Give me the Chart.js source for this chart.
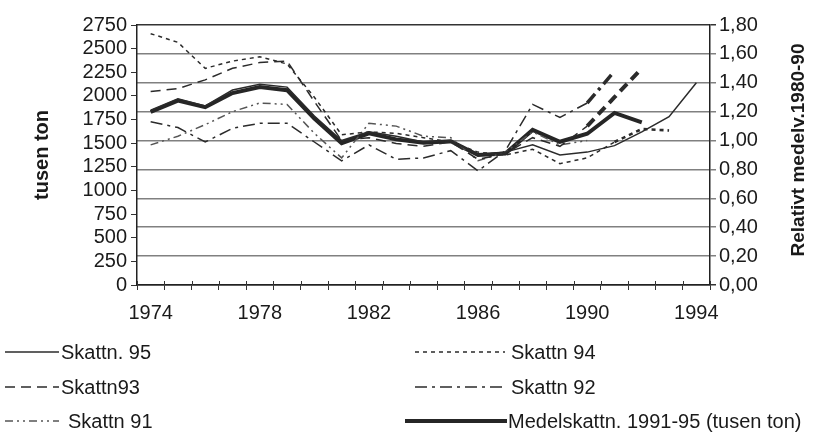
<!DOCTYPE html>
<html>
<head>
<meta charset="utf-8">
<script src="https://cdn.jsdelivr.net/npm/chart.js@4"></script>
<style>
  html, body { margin: 0; padding: 0; background: #ffffff; }
  #wrap { width: 827px; height: 444px; }
</style>
</head>
<body>
<div id="wrap"><canvas id="c" width="827" height="444"></canvas></div>
<script>
// Years on the category axis
const years = [1974,1975,1976,1977,1978,1979,1980,1981,1982,1983,1984,
               1985,1986,1987,1988,1989,1990,1991,1992,1993,1994];
const labelledYears = [1974,1978,1982,1986,1990,1994];

// Mean estimate 1991-95, thousand tonnes (left axis), 1974-1992
const medelskattn = [1830,1950,1880,2030,2095,2060,1760,1500,1605,1540,1505,1520,1375,1390,1640,1515,1600,1820,1720];

// Each assessment relative to its own 1980-90 mean (right axis)
const skattn95 = [1.21,1.29,1.24,1.35,1.39,1.37,1.17,1.00,1.06,1.03,0.99,1.00,0.90,0.92,0.97,0.90,0.92,0.965,1.06,1.165,1.40];
const skattn94 = [1.74,1.68,1.50,1.55,1.58,1.53,1.30,1.04,1.06,1.05,1.02,0.99,0.92,0.90,0.94,0.84,0.88,0.99,1.08,1.07];
const skattn93 = [1.34,1.36,1.42,1.50,1.54,1.55,1.27,1.00,1.02,0.98,0.96,0.99,0.87,0.91,1.02,0.96,1.10,1.30,1.50];
const skattn92 = [1.13,1.09,0.99,1.085,1.12,1.12,0.99,0.86,0.97,0.87,0.88,0.93,0.79,0.93,1.25,1.16,1.26,1.48];
const skattn91 = [0.97,1.03,1.11,1.20,1.26,1.25,1.05,0.88,1.12,1.10,1.03,1.02,0.86,0.92,1.06,0.97,1.00];

// Axis ranges and titles
const leftMax = 2750, leftStep = 250;
const rightMax = 1.8, rightStep = 0.2;
const leftTitle = 'tusen ton';
const rightTitle = 'Relativt medelv.1980-90';

const FONT = '"Liberation Sans", Arial, Helvetica, sans-serif';
const INK = '#1a1a1a';
const LINE = '#2b2b2b';

const datasets = [
  { label: 'Skattn. 95', data: skattn95, yAxisID: 'y1',
    borderColor: LINE, borderWidth: 1.5, borderDash: [] },
  { label: 'Skattn 94', data: skattn94, yAxisID: 'y1',
    borderColor: LINE, borderWidth: 1.5, borderDash: [4, 4],
    segment: { borderWidth: c => c.p0DataIndex >= 17 ? 2.6 : 1.5 } },
  { label: 'Skattn93', data: skattn93, yAxisID: 'y1',
    borderColor: LINE, borderWidth: 1.5, borderDash: [10, 6],
    segment: { borderWidth: c => c.p0DataIndex >= 16 ? 4 : 1.5 } },
  { label: 'Skattn 92', data: skattn92, yAxisID: 'y1',
    borderColor: LINE, borderWidth: 1.5, borderDash: [12, 5, 3, 5],
    segment: { borderWidth: c => c.p0DataIndex >= 16 ? 3.5 : 1.5 } },
  { label: 'Skattn 91', data: skattn91, yAxisID: 'y1',
    borderColor: '#555', borderWidth: 1.5, borderDash: [8, 4, 2, 4, 2, 4] },
  { label: 'Medelskattn. 1991-95 (tusen ton)', data: medelskattn, yAxisID: 'y',
    borderColor: '#262626', borderWidth: 4 }
];
datasets.forEach(d => { d.pointRadius = 0; d.tension = 0; d.fill = false; });

// Legend layout: two columns, three rows
const legendSlots = [
  { x0: 5,   x1: 59,  tx: 61,  y: 352 },
  { x0: 415, x1: 505, tx: 511, y: 352 },
  { x0: 5,   x1: 59,  tx: 61,  y: 387 },
  { x0: 415, x1: 505, tx: 511, y: 387 },
  { x0: 5,   x1: 59,  tx: 68,  y: 421 },
  { x0: 405, x1: 507, tx: 508, y: 421 }
];

const decor = {
  id: 'decor',
  afterDraw(chart) {
    const { ctx, chartArea: a } = chart;
    ctx.save();
    ctx.fillStyle = INK;
    ctx.textAlign = 'center';
    ctx.textBaseline = 'middle';
    ctx.font = 'bold 20px ' + FONT;
    ctx.save();
    ctx.translate(42, (a.top + a.bottom) / 2);
    ctx.rotate(-Math.PI / 2);
    ctx.fillText(leftTitle, 0, 0);
    ctx.restore();
    ctx.save();
    ctx.translate(799, (a.top + a.bottom) / 2 - 5);
    ctx.rotate(-Math.PI / 2);
    ctx.font = 'bold 19px ' + FONT;
    ctx.fillText(rightTitle, 0, 0);
    ctx.restore();

    // small inner tick marks on the category axis
    ctx.strokeStyle = '#333';
    ctx.lineWidth = 1;
    for (let i = 0; i <= years.length; i++) {
      const px = Math.round(a.left + i * (a.right - a.left) / years.length) + 0.5;
      ctx.beginPath(); ctx.moveTo(px, a.bottom - 4); ctx.lineTo(px, a.bottom); ctx.stroke();
    }

    // legend
    ctx.textAlign = 'left';
    ctx.font = '20px ' + FONT;
    chart.data.datasets.forEach((ds, i) => {
      const s = legendSlots[i];
      ctx.save();
      ctx.strokeStyle = ds.borderColor;
      ctx.lineWidth = ds.borderWidth;
      ctx.setLineDash(ds.borderDash || []);
      ctx.beginPath(); ctx.moveTo(s.x0, s.y); ctx.lineTo(s.x1, s.y); ctx.stroke();
      ctx.restore();
      ctx.fillStyle = INK;
      ctx.fillText(ds.label, s.tx, s.y + 1);
    });
    ctx.restore();
  }
};

new Chart(document.getElementById('c'), {
  type: 'line',
  data: { labels: years, datasets },
  plugins: [decor],
  options: {
    responsive: false,
    animation: false,
    devicePixelRatio: 1,
    layout: { padding: { top: 25, bottom: 114, left: 0, right: 0 } },
    plugins: { legend: { display: false }, tooltip: { enabled: false } },
    scales: {
      x: {
        type: 'category',
        offset: true,
        grid: { offset: true, drawOnChartArea: false, drawTicks: true, tickLength: 5, color: '#333', lineWidth: 1 },
        border: { color: '#222', width: 1.5 },
        ticks: {
          autoSkip: false, maxRotation: 0, minRotation: 0, padding: 11,
          color: INK, font: { family: FONT, size: 20 },
          callback: (v, i) => labelledYears.includes(years[i]) ? String(years[i]) : ''
        },
        afterFit: s => { s.height = 45; }
      },
      y: {
        position: 'left',
        min: 0, max: leftMax,
        grid: { drawOnChartArea: false, tickLength: 6, color: '#333' },
        border: { color: '#222', width: 1.5 },
        ticks: {
          stepSize: leftStep, autoSkip: false, padding: 4, color: INK,
          font: { family: FONT, size: 20 },
          callback: v => String(v)
        },
        afterFit: s => { s.width = 137; }
      },
      y1: {
        position: 'right',
        min: 0, max: rightMax,
        grid: {
          drawOnChartArea: true, tickLength: 6,
          color: c => (c.tick && (c.tick.value === 0 || Math.abs(c.tick.value - rightMax) < 1e-6)) ? '#333' : '#808080',
          lineWidth: 1.5
        },
        border: { color: '#222', width: 1.5 },
        ticks: {
          stepSize: rightStep, autoSkip: false, padding: 3, color: INK,
          font: { family: FONT, size: 20 },
          callback: v => Number(v).toFixed(2).replace('.', ',')
        },
        afterFit: s => { s.width = 117; }
      }
    }
  }
});
</script>
</body>
</html>
